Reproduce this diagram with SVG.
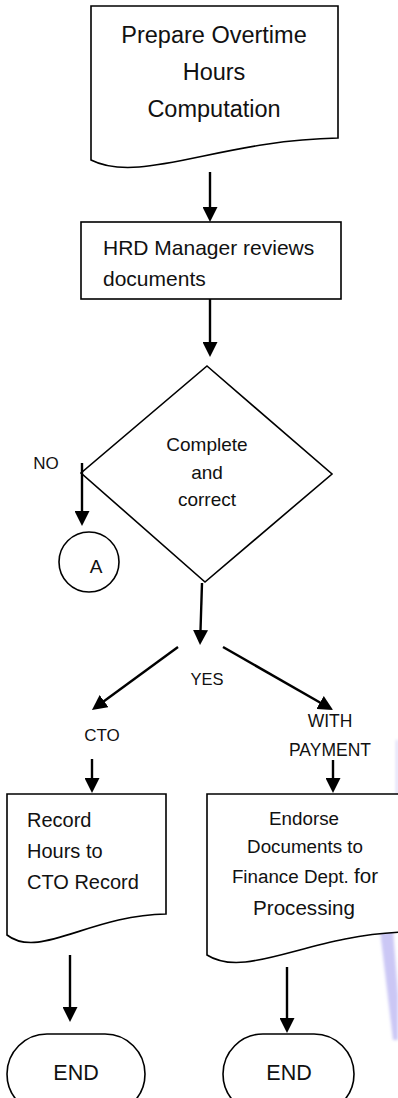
<svg xmlns="http://www.w3.org/2000/svg" width="398" height="1098" viewBox="0 0 398 1098">
  <style>
    .shape { fill: #ffffff; stroke: #000000; stroke-width: 1.6; }
    .conn { fill: none; stroke: #000000; stroke-width: 2.4; marker-end: url(#arrow); }
    text { font-family: "Liberation Sans", Arial, sans-serif; fill: #111111; }
    .mid { text-anchor: middle; }
  </style>
  <defs>
    <marker id="arrow" markerUnits="userSpaceOnUse" markerWidth="15" markerHeight="15" refX="10" refY="7.5" orient="auto">
      <path d="M0,0 L15,7.5 L0,15 Z" fill="#000000"/>
    </marker>
    <filter id="soft" x="-50%" y="-10%" width="200%" height="120%">
      <feGaussianBlur stdDeviation="1.5"/>
    </filter>
  </defs>

  <rect width="398" height="1098" fill="#ffffff"/>

  <!-- faint highlighter stroke along the right edge -->
  <g id="marking" filter="url(#soft)">
    <path d="M377,905 L391,903 L398,995 L398,1040 L393,1040 Z" fill="#cbc7f5"/>
    <line x1="397" y1="740" x2="397" y2="800" stroke="#d6d3f6" stroke-width="2"/>
  </g>

  <!-- Document: Prepare Overtime Hours Computation -->
  <g id="prepare">
    <path class="shape" d="M91,6 H338 V138 C220,140 140,185 91,160 Z"/>
    <text class="mid" x="214" y="43" font-size="23.5">Prepare Overtime</text>
    <text class="mid" x="214" y="80" font-size="23.5">Hours</text>
    <text class="mid" x="214" y="117" font-size="23.5">Computation</text>
  </g>

  <!-- Process: HRD Manager reviews documents -->
  <g id="review">
    <rect class="shape" x="81" y="222" width="260" height="77"/>
    <text x="103" y="255" font-size="21">HRD Manager reviews</text>
    <text x="103" y="286" font-size="21">documents</text>
  </g>

  <!-- Decision: Complete and correct -->
  <g id="decision">
    <path class="shape" d="M207,366 L332,474 L205,582 L81,473 Z"/>
    <text class="mid" x="207" y="451" font-size="19">Complete</text>
    <text class="mid" x="207" y="479" font-size="19">and</text>
    <text class="mid" x="207" y="506" font-size="19">correct</text>
  </g>

  <!-- Connector: A -->
  <g id="connector-a">
    <circle class="shape" cx="89" cy="562" r="30"/>
    <text class="mid" x="96" y="573" font-size="19">A</text>
  </g>

  <!-- Document: Record Hours to CTO Record -->
  <g id="record">
    <path class="shape" d="M7,794 H166 V914 C90,915 39,960 7,935 Z"/>
    <text x="27" y="827" font-size="20">Record</text>
    <text x="27" y="858" font-size="20">Hours to</text>
    <text x="27" y="889" font-size="20">CTO Record</text>
  </g>

  <!-- Document: Endorse Documents to Finance Dept. for Processing -->
  <g id="endorse">
    <path class="shape" d="M207,794 H403 V932 C309,935 246,980 207,955 Z"/>
    <text class="mid" x="304" y="825" font-size="18.8">Endorse</text>
    <text class="mid" x="305" y="853" font-size="18.8">Documents to</text>
    <text class="mid" x="305" y="883" font-size="18.8">Finance Dept. <tspan font-size="20.6">for</tspan></text>
    <text class="mid" x="304" y="915" font-size="20.6">Processing</text>
  </g>

  <!-- Terminals -->
  <g id="end-cto">
    <rect class="shape" x="7" y="1034" width="138" height="80" rx="40" ry="40"/>
    <text class="mid" x="76" y="1080" font-size="21.5">END</text>
  </g>
  <g id="end-payment">
    <rect class="shape" x="223" y="1034" width="131" height="80" rx="40" ry="40"/>
    <text class="mid" x="289" y="1080" font-size="21.5">END</text>
  </g>

  <!-- Branch labels -->
  <g id="labels">
    <text class="mid" x="46" y="469" font-size="17">NO</text>
    <text class="mid" x="207" y="685" font-size="16.5">YES</text>
    <text class="mid" x="102" y="741" font-size="17">CTO</text>
    <text class="mid" x="330" y="727" font-size="17.5">WITH</text>
    <text class="mid" x="330" y="756" font-size="17.5">PAYMENT</text>
  </g>

  <!-- Connectors -->
  <g id="connectors">
    <line class="conn" x1="210" y1="172" x2="210" y2="217"/>
    <line class="conn" x1="210" y1="299" x2="210" y2="352"/>
    <line class="conn" x1="82" y1="463" x2="82" y2="521"/>
    <line class="conn" x1="202" y1="583" x2="200.2" y2="640"/>
    <line class="conn" x1="178" y1="647" x2="96" y2="707"/>
    <line class="conn" x1="223" y1="647" x2="328.7" y2="707.5"/>
    <line class="conn" x1="92" y1="759" x2="92" y2="788"/>
    <line class="conn" x1="333" y1="760" x2="333" y2="788"/>
    <line class="conn" x1="70" y1="955" x2="70" y2="1017"/>
    <line class="conn" x1="287" y1="967" x2="287" y2="1028"/>
  </g>
</svg>
